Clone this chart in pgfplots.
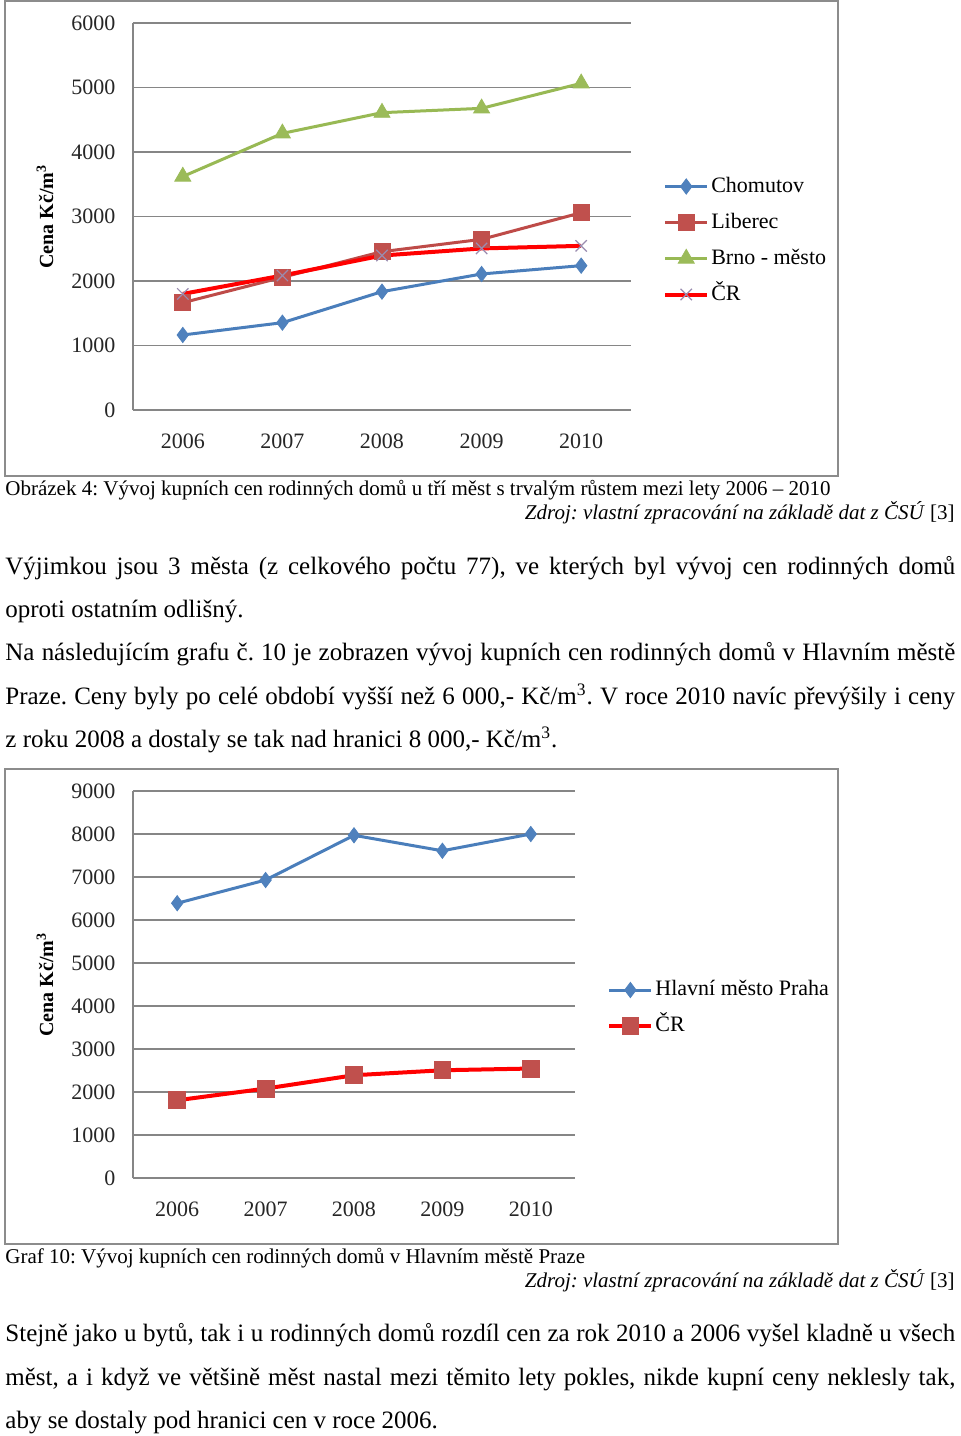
\documentclass[border=0pt]{standalone}
\usepackage{fontspec}
\setmainfont{Liberation Serif}
\usepackage{pgfplots}
\pgfplotsset{compat=1.18}
\frenchspacing

\definecolor{lblue}{HTML}{4A7EBB}
\definecolor{mblue}{HTML}{4F81BD}
\definecolor{lred}{HTML}{BE4B48}
\definecolor{mred}{HTML}{C0504D}
\definecolor{lgreen}{HTML}{98B954}
\definecolor{mgreen}{HTML}{9BBB59}
\definecolor{mpurple}{HTML}{9A8CB0}
\definecolor{gridgray}{HTML}{868686}
\definecolor{framegray}{HTML}{8C8C8C}

% shared look of both Excel-style charts
\pgfplotsset{
  excel/.style={
    scale only axis,
    anchor=south west,
    xmin=-0.5, xmax=4.5, ymin=0,
    xtick={0,1,2,3,4},
    xticklabels={2006,2007,2008,2009,2010},
    axis x line*=bottom, axis y line*=left,
    axis line style={gridgray, line width=0.6pt, -},
    major tick length=0pt,
    ymajorgrids, grid style={gridgray, line width=0.6pt},
    tick label style={font=\fontsize{11}{13}\selectfont, text=black!85},
    xticklabel style={yshift=-8.5pt},
    yticklabel style={xshift=-5.3pt},
    /pgf/number format/assume math mode=true,
    /pgf/number format/1000 sep={},
    ylabel={\textbf{Cena Kč/m\textsuperscript{3}}},
    ylabel style={anchor=center, font=\fontsize{10}{12}\selectfont},
    legend cell align=left,
    legend style={draw=none, fill=none, anchor=west, inner sep=0pt,
      font=\fontsize{11}{13}\selectfont, row sep=5.5pt,
      nodes={inner sep=1pt, text height=8pt, text depth=2.5pt}},
    legend image code/.code={%
      \draw[mark repeat=2,mark phase=2,#1]
        plot coordinates {(0pt,0pt)(10.5pt,0pt)(21pt,0pt)};},
  }
}

\begin{document}
\begin{tikzpicture}
\path[fill=white] (0,0) rectangle (480pt,-718pt);

% chart 1
\begin{axis}[excel,
  at={(66.5pt,-205pt)}, width=249pt, height=193.5pt,
  ymax=6000, ytick={0,1000,...,6000},
  ylabel style={at={(axis description cs:-0.1767,0.5)}},
  legend style={at={(axis description cs:1.064,0.438)}},
]
\addplot[lblue, line width=1.5pt, mark=diamond*, mark size=3.8pt,
  mark options={mblue, fill=mblue, line width=0.4pt}]
  coordinates {(0,1163)(1,1354)(2,1835)(3,2109)(4,2238)};
\addlegendentry{Chomutov}
\addplot[lred, line width=1.5pt, mark=square*, mark size=4pt,
  mark options={mred, fill=mred, line width=0.4pt}]
  coordinates {(0,1664)(1,2057)(2,2455)(3,2646)(4,3059)};
\addlegendentry{Liberec}
\addplot[lgreen, line width=1.5pt, mark=triangle*, mark size=4.6pt,
  mark options={mgreen, fill=mgreen, line width=0.4pt}]
  coordinates {(0,3620)(1,4289)(2,4610)(3,4677)(4,5065)};
\addlegendentry{Brno - město}
\addplot[red, line width=2pt, mark=x, mark size=4pt,
  mark options={mpurple, line width=0.6pt}]
  coordinates {(0,1800)(1,2085)(2,2395)(3,2505)(4,2545)};
\addlegendentry{ČR}
\end{axis}

% chart 2
\begin{axis}[excel,
  at={(66.5pt,-589pt)}, width=221pt, height=193.5pt,
  ymax=9000, ytick={0,1000,...,9000},
  ylabel style={at={(axis description cs:-0.199,0.5)}},
  legend style={at={(axis description cs:1.0724,0.4393)}},
]
\addplot[lblue, line width=1.5pt, mark=diamond*, mark size=3.8pt,
  mark options={mblue, fill=mblue, line width=0.4pt}]
  coordinates {(0,6390)(1,6930)(2,7970)(3,7610)(4,8000)};
\addlegendentry{Hlavní město Praha}
\addplot[red, line width=2pt, mark=square*, mark size=4.2pt,
  mark options={mred, fill=mred, line width=0.4pt}]
  coordinates {(0,1808)(1,2080)(2,2390)(3,2506)(4,2546)};
\addlegendentry{ČR}
\end{axis}

\begin{scope}[x=0.5pt, y=-0.5pt]
\draw[framegray, line width=0.75pt] (5,1) rectangle (838,476);
\draw[framegray, line width=0.75pt] (5,769) rectangle (838,1244);

\begin{scope}[every node/.style={inner sep=0pt, anchor=base west}]
\node[font=\fontsize{10.5}{12}\selectfont] at (5,495)
  {Obrázek 4: Vývoj kupních cen rodinných domů u tří měst s trvalým růstem mezi lety 2006 – 2010};
\node[font=\fontsize{10.5}{12}\selectfont, anchor=base east] at (955,519)
  {\textit{Zdroj: vlastní zpracování na základě dat z ČSÚ} [3]};

\node[font=\fontsize{12.5}{14}\selectfont] at (5,574)
  {\makebox[475pt][s]{Výjimkou jsou 3 města (z celkového počtu 77), ve kterých byl vývoj cen rodinných domů}};
\node[font=\fontsize{12.5}{14}\selectfont] at (5,617)
  {oproti ostatním odlišný.};
\node[font=\fontsize{12.5}{14}\selectfont] at (5,660.5)
  {\makebox[475pt][s]{Na následujícím grafu č. 10 je zobrazen vývoj kupních cen rodinných domů v Hlavním městě}};
\node[font=\fontsize{12.5}{14}\selectfont] at (5,704)
  {\makebox[475pt][s]{Praze. Ceny byly po celé období vyšší než 6 000,- Kč/m\textsuperscript{3}. V roce 2010 navíc převýšily i ceny}};
\node[font=\fontsize{12.5}{14}\selectfont] at (5,747.5)
  {z roku 2008 a dostaly se tak nad hranici 8 000,- Kč/m\textsuperscript{3}.};

\node[font=\fontsize{10.5}{12}\selectfont] at (5,1263)
  {Graf 10: Vývoj kupních cen rodinných domů v Hlavním městě Praze};
\node[font=\fontsize{10.5}{12}\selectfont, anchor=base east] at (955,1287)
  {\textit{Zdroj: vlastní zpracování na základě dat z ČSÚ} [3]};

\node[font=\fontsize{12.5}{14}\selectfont] at (5,1341)
  {\makebox[475pt][s]{Stejně jako u bytů, tak i u rodinných domů rozdíl cen za rok 2010 a 2006 vyšel kladně u všech}};
\node[font=\fontsize{12.5}{14}\selectfont] at (5,1385)
  {\makebox[475pt][s]{měst, a i když ve většině měst nastal mezi těmito lety pokles, nikde kupní ceny neklesly tak,}};
\node[font=\fontsize{12.5}{14}\selectfont] at (5,1428.5)
  {aby se dostaly pod hranici cen v roce 2006.};
\end{scope}
\end{scope}
\end{tikzpicture}
\end{document}
